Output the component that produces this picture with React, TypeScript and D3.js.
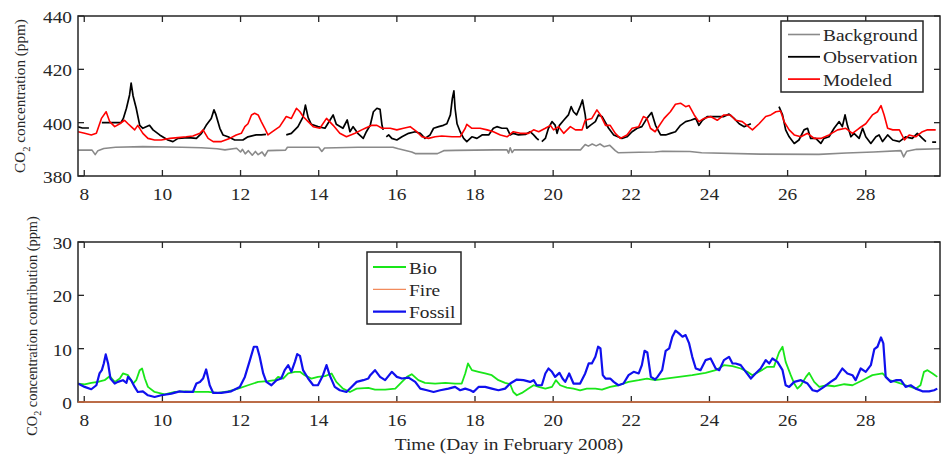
import React, { useRef, useEffect } from "react";
import * as d3 from "d3";

type Pt = [number, number];

// days of February 2008 vs ppm
const backgroundData: Pt[] = [
  [7.84, 389.7], [8.2, 389.7], [8.28, 388], [8.35, 389.5], [8.5, 390.3], [8.8, 390.8], [9.5, 391], [10.5, 390.8],
  [11.0, 390.6], [11.4, 390.2], [11.6, 389.8], [11.9, 390.4], [12.0, 389], [12.05, 390], [12.12, 388.3], [12.2, 389.5],
  [12.3, 387.8], [12.38, 389.2], [12.45, 388], [12.55, 389], [12.62, 387.5], [12.7, 389.5], [13.15, 389.7], [13.2, 390.8],
  [14.0, 390.8], [14.08, 389.2], [14.15, 390.5], [15.0, 390.8], [15.9, 390.8], [16.04, 390.2], [16.38, 389], [16.47, 388.4],
  [17.04, 388.4], [17.2, 389.5], [17.5, 389.6], [18.5, 389.8], [18.82, 389.8], [18.86, 388.6], [18.9, 390.6], [18.95, 388.8],
  [19.0, 389.8], [20.7, 389.8], [20.82, 391.8], [20.9, 391.2], [21.0, 392], [21.1, 391.3], [21.2, 392], [21.3, 391],
  [21.45, 391.5], [21.59, 389.5], [21.67, 388.7], [22.2, 388.9], [22.6, 389], [22.8, 389.3], [23.5, 389.2], [23.8, 388.7],
  [25.3, 388.2], [26.8, 388.1], [27.5, 388.6], [28.2, 389], [28.9, 389.5], [28.97, 387.2], [29.05, 389.3], [29.3, 390],
  [29.9, 390.2],
];

// NaN marks a gap in the observations
const observationData: Pt[] = [
  [7.84, 398.4], [7.95, 398.0], [8.12, 398.0], [8.13, NaN],
  [8.45, 400], [8.94, 400], [9.0, 401.6], [9.08, 405.4], [9.16, 410.4], [9.2, 414.8], [9.25, 410], [9.33, 405.4],
  [9.42, 399], [9.5, 397.9], [9.67, 399], [9.76, 397.3], [9.93, 395.4], [10.14, 393.5], [10.27, 392.9], [10.4, 394.1],
  [10.66, 394.4], [10.87, 394.1], [11.0, 396], [11.12, 399], [11.25, 401.6], [11.32, 404.8], [11.37, 403], [11.47, 397.9],
  [11.55, 395.4], [11.68, 394.7], [11.85, 393.5], [12.06, 393.5], [12.19, 394.7], [12.4, 395.4], [12.53, 395.4],
  [12.65, 395.6], [12.66, NaN],
  [13.17, 395.4], [13.3, 396], [13.47, 398.5], [13.6, 402.2], [13.66, 406.6], [13.73, 401.9], [13.81, 399.4],
  [13.98, 398.5], [14.16, 397.9], [14.37, 402.9], [14.45, 399.4], [14.62, 397.9], [14.73, 401], [14.8, 396.6],
  [14.88, 398.5], [15.0, 396], [15.14, 394.1], [15.22, 396.6], [15.32, 399.1], [15.4, 404.1], [15.49, 405.4],
  [15.57, 405], [15.62, 399], [15.65, 397.3], [15.66, NaN],
  [15.73, 394.7], [15.79, 395.4], [15.87, 394.1], [16.0, 393.5], [16.13, 394.7], [16.3, 396], [16.47, 396.6],
  [16.6, 396], [16.72, 394.1], [16.85, 395.4], [16.94, 397.9], [17.07, 398.5], [17.19, 399], [17.28, 399.6],
  [17.37, 402.9], [17.42, 409.1], [17.46, 411.9], [17.49, 405.4], [17.54, 399.6], [17.62, 396.6], [17.71, 394.1],
  [17.79, 392.9], [17.92, 394.7], [18.05, 394.1], [18.18, 395.4], [18.35, 395.4], [18.47, 397.9], [18.56, 398.5],
  [18.69, 397.9], [18.82, 397.9], [18.9, 395.4], [18.98, 396], [19.11, 395.4], [19.29, 395.6], [19.41, 396.6],
  [19.5, 395.4], [19.58, 394.1], [19.63, 393.5], [19.64, NaN],
  [19.71, 392.9], [19.8, 394.1], [19.88, 397.9], [19.97, 400.4], [20.05, 399.1], [20.1, 396], [20.16, 399],
  [20.27, 400.9], [20.39, 402.9], [20.46, 406], [20.52, 404.1], [20.6, 402.9], [20.69, 406], [20.75, 408.5],
  [20.82, 402.9], [20.86, 397.9], [20.95, 399], [21.08, 400.4], [21.16, 402.9], [21.25, 402.3], [21.42, 397.9],
  [21.55, 395.4], [21.76, 394.1], [21.89, 394.7], [22.02, 396.6], [22.15, 397.9], [22.27, 398.5], [22.4, 401.6],
  [22.52, 403.8], [22.62, 399], [22.75, 395.4], [22.88, 395.4], [23.0, 396], [23.13, 396.6], [23.26, 399],
  [23.39, 400.4], [23.52, 400.9], [23.65, 401.6], [23.73, 399], [23.82, 400.9], [23.95, 402.3], [24.12, 402.3],
  [24.25, 402.3], [24.37, 402.3], [24.5, 403.2], [24.63, 401.6], [24.76, 399.6], [24.89, 398.5], [24.97, 399],
  [25.06, 399.6], [25.07, NaN],
  [25.78, 406], [25.87, 402.9], [25.95, 397.3], [26.04, 394.7], [26.17, 392.2], [26.29, 393.5], [26.42, 397.3],
  [26.51, 397.9], [26.59, 394.1], [26.72, 394.1], [26.85, 392.2], [26.93, 394.1], [27.06, 394.7], [27.19, 397.9],
  [27.32, 400.4], [27.4, 398.5], [27.47, 402.9], [27.53, 399], [27.62, 394.7], [27.7, 396], [27.83, 394.1],
  [27.92, 397.9], [28.0, 394.7], [28.13, 392.2], [28.26, 394.7], [28.34, 395.4], [28.43, 392.9], [28.56, 395.4],
  [28.69, 393.5], [28.86, 392.9], [29.02, 394.7], [29.19, 394.1], [29.32, 396], [29.45, 394.1], [29.54, 392.9],
  [29.55, NaN], [29.7, 392.7], [29.8, 392.7],
];

const modeledData: Pt[] = [
  [7.84, 396.6], [8.01, 396], [8.18, 395.4], [8.31, 396], [8.44, 401.6], [8.56, 404.1], [8.65, 400.4], [8.78, 398.5],
  [8.91, 399.6], [9.03, 400.9], [9.12, 399.6], [9.2, 398.5], [9.29, 397.3], [9.37, 399], [9.5, 396], [9.63, 394.1],
  [9.8, 393.5], [9.97, 393.5], [10.19, 394.1], [10.4, 394.4], [10.61, 394.7], [10.78, 395], [10.96, 396], [11.04, 397.3],
  [11.17, 394.1], [11.3, 392.9], [11.51, 392.9], [11.72, 394.1], [11.89, 395.4], [12.02, 396], [12.11, 398.5],
  [12.19, 399.6], [12.28, 402.9], [12.36, 403.5], [12.45, 402.9], [12.53, 400.4], [12.62, 397.9], [12.7, 395.4],
  [12.88, 397.3], [13.0, 398.5], [13.17, 402.3], [13.3, 401.6], [13.43, 405.4], [13.52, 404.1], [13.6, 402.3],
  [13.73, 400.4], [13.86, 398.5], [14.03, 397.9], [14.2, 401.6], [14.37, 399], [14.54, 396], [14.71, 394.7],
  [14.93, 396], [15.1, 397.3], [15.19, 397.9], [15.36, 399], [15.49, 399], [15.62, 397.9], [15.83, 397.9], [16.0, 397.3],
  [16.17, 397.9], [16.34, 398.5], [16.51, 396.6], [16.64, 394.7], [16.81, 394.1], [16.98, 394.7], [17.15, 395],
  [17.41, 394.7], [17.62, 394.7], [17.75, 397.9], [17.79, 399.4], [17.92, 397.9], [18.13, 397.9], [18.31, 397.3],
  [18.47, 396.6], [18.65, 395.4], [18.82, 394.7], [18.98, 396.6], [19.16, 396], [19.37, 396], [19.5, 397.3],
  [19.63, 396.6], [19.8, 397.9], [19.93, 399], [20.01, 397.3], [20.14, 398.5], [20.27, 396], [20.44, 398.5],
  [20.57, 397.3], [20.74, 397.3], [20.82, 400.9], [20.99, 401.6], [21.12, 404.8], [21.21, 402.9], [21.34, 399],
  [21.46, 399], [21.59, 396], [21.72, 394.1], [21.89, 395.4], [22.02, 397.9], [22.19, 398.5], [22.31, 402.3],
  [22.4, 401.6], [22.49, 397.9], [22.61, 396.6], [22.67, 397.9], [22.84, 401.6], [23.0, 404.1], [23.13, 406.9],
  [23.26, 407.3], [23.39, 406], [23.48, 406.4], [23.61, 402.9], [23.73, 400.4], [23.86, 401.6], [24.03, 402.3],
  [24.2, 400.9], [24.37, 402.9], [24.54, 402.9], [24.67, 400.9], [24.84, 400.4], [25.1, 397.3], [25.27, 399.6],
  [25.44, 402.3], [25.57, 402.9], [25.7, 404.1], [25.82, 404.4], [25.91, 400.4], [26.04, 397.3], [26.17, 395.4],
  [26.34, 394.7], [26.51, 396], [26.68, 394.1], [26.85, 394.1], [27.06, 395.4], [27.28, 397.3], [27.49, 397.9],
  [27.66, 396], [27.83, 397.9], [28.0, 399.6], [28.17, 402.9], [28.3, 404.1], [28.39, 406.4], [28.47, 402.9],
  [28.56, 397.9], [28.69, 397.3], [28.86, 397.3], [28.99, 393.5], [29.11, 395.4], [29.28, 394.7], [29.45, 396.6],
  [29.58, 397.3], [29.79, 397.3],
];

const bioData: Pt[] = [
  [7.84, 3.46], [8.01, 3.3], [8.18, 3.6], [8.35, 3.77], [8.52, 4.09], [8.65, 4.84], [8.78, 3.77], [8.91, 4.4],
  [8.99, 5.35], [9.12, 5.03], [9.25, 3.46], [9.33, 4.09], [9.42, 5.97], [9.48, 6.28], [9.55, 4.4], [9.63, 2.83],
  [9.8, 1.88], [10.06, 1.44], [10.32, 1.88], [10.57, 2.0], [10.87, 1.88], [11.17, 1.88], [11.42, 1.7], [11.68, 2.0],
  [11.94, 2.51], [12.19, 3.14], [12.45, 3.77], [12.7, 3.9], [12.88, 4.09], [12.96, 4.71], [13.09, 4.4], [13.22, 5.35],
  [13.39, 5.66], [13.52, 5.66], [13.64, 5.03], [13.81, 4.4], [13.98, 4.71], [14.16, 4.84], [14.33, 5.35], [14.45, 3.77],
  [14.62, 2.51], [14.8, 1.88], [14.97, 2.51], [15.27, 2.64], [15.44, 2.32], [15.7, 2.32], [15.96, 2.51], [16.13, 3.77],
  [16.26, 4.71], [16.38, 5.22], [16.55, 4.09], [16.72, 3.6], [16.98, 3.46], [17.24, 3.6], [17.49, 3.46], [17.66, 3.46],
  [17.75, 5.35], [17.82, 7.23], [17.92, 5.97], [18.09, 5.66], [18.26, 5.35], [18.43, 5.03], [18.6, 4.09], [18.77, 3.6],
  [18.9, 3.33], [18.98, 1.88], [19.07, 1.26], [19.2, 1.7], [19.37, 2.51], [19.5, 3.14], [19.63, 2.83], [19.8, 2.51],
  [19.97, 2.83], [20.07, 4.09], [20.18, 3.14], [20.35, 2.7], [20.52, 2.51], [20.69, 2.2], [20.86, 2.51], [21.08, 2.51],
  [21.25, 2.32], [21.46, 2.83], [21.67, 3.14], [21.93, 3.77], [22.19, 4.09], [22.4, 4.4], [22.61, 4.09], [22.88, 4.4],
  [23.22, 4.71], [23.56, 5.03], [23.9, 5.47], [24.16, 5.97], [24.37, 6.91], [24.59, 6.72], [24.8, 6.28], [24.97, 5.66],
  [25.1, 5.03], [25.27, 5.66], [25.48, 6.59], [25.65, 6.59], [25.78, 9.29], [25.87, 10.36], [25.95, 7.53], [26.08, 5.03],
  [26.17, 3.46], [26.25, 2.51], [26.34, 3.14], [26.47, 4.71], [26.55, 5.47], [26.68, 3.77], [26.81, 2.83], [26.98, 3.14],
  [27.19, 2.95], [27.45, 3.33], [27.66, 3.14], [27.92, 4.09], [28.17, 5.03], [28.43, 5.35], [28.6, 4.09], [28.77, 3.77],
  [29.02, 3.14], [29.28, 2.51], [29.4, 3.14], [29.49, 5.66], [29.58, 5.97], [29.71, 5.35], [29.83, 4.71],
];

const fireData: Pt[] = [
  [7.84, 0], [29.9, 0],
];

const fossilData: Pt[] = [
  [7.84, 3.46], [8.01, 2.83], [8.18, 2.39], [8.31, 3.14], [8.39, 5.35], [8.45, 5.97], [8.5, 7.23], [8.55, 8.92],
  [8.61, 7.23], [8.67, 4.4], [8.78, 3.46], [8.86, 3.77], [8.99, 4.09], [9.08, 3.6], [9.12, 4.71], [9.2, 4.09],
  [9.29, 2.83], [9.37, 1.88], [9.5, 2.0], [9.63, 1.26], [9.8, 0.94], [9.97, 1.26], [10.23, 1.57], [10.44, 2.0],
  [10.57, 1.88], [10.78, 1.88], [10.87, 3.46], [10.96, 3.77], [11.04, 4.4], [11.12, 6.1], [11.21, 3.14], [11.3, 1.7],
  [11.51, 1.7], [11.76, 2.0], [11.98, 2.83], [12.11, 4.71], [12.24, 7.85], [12.34, 10.36], [12.42, 10.36], [12.49, 8.47],
  [12.58, 5.35], [12.66, 3.77], [12.79, 3.14], [12.92, 4.09], [13.04, 4.4], [13.13, 5.97], [13.22, 6.91], [13.3, 5.66],
  [13.39, 7.53], [13.45, 8.98], [13.52, 8.66], [13.6, 5.97], [13.73, 4.4], [13.86, 3.14], [13.98, 3.14], [14.11, 5.03],
  [14.2, 6.91], [14.28, 5.03], [14.41, 2.83], [14.54, 2.2], [14.71, 1.88], [14.84, 2.83], [14.97, 3.77], [15.14, 4.09],
  [15.27, 4.4], [15.32, 5.03], [15.44, 5.97], [15.57, 4.71], [15.7, 4.09], [15.87, 5.66], [16.0, 4.71], [16.13, 4.4],
  [16.3, 4.58], [16.47, 3.77], [16.6, 2.51], [16.77, 2.2], [16.94, 1.88], [17.11, 2.2], [17.32, 2.51], [17.49, 2.83],
  [17.62, 2.2], [17.75, 2.51], [17.88, 2.2], [17.96, 1.88], [18.09, 2.83], [18.26, 2.83], [18.43, 2.51], [18.6, 2.2],
  [18.77, 2.51], [18.9, 3.46], [19.07, 4.21], [19.24, 4.09], [19.41, 3.77], [19.5, 4.09], [19.58, 3.14], [19.71, 3.14],
  [19.8, 5.35], [19.88, 6.28], [19.97, 5.66], [20.05, 4.71], [20.16, 5.47], [20.24, 4.4], [20.31, 3.77], [20.41, 5.35],
  [20.52, 3.46], [20.69, 3.46], [20.82, 5.35], [20.91, 7.23], [20.99, 7.23], [21.08, 8.47], [21.15, 10.36], [21.21, 10.05],
  [21.27, 5.03], [21.34, 4.4], [21.46, 4.4], [21.55, 3.77], [21.67, 3.14], [21.8, 3.46], [21.93, 5.03], [22.06, 5.66],
  [22.19, 5.35], [22.27, 6.91], [22.34, 9.6], [22.41, 9.29], [22.5, 4.71], [22.61, 4.21], [22.67, 4.71], [22.79, 5.97],
  [22.88, 9.6], [22.97, 10.05], [23.05, 12.24], [23.13, 13.37], [23.22, 12.87], [23.31, 12.24], [23.39, 12.55],
  [23.48, 10.99], [23.56, 8.47], [23.65, 6.28], [23.77, 5.97], [23.9, 7.85], [24.03, 8.16], [24.16, 6.28], [24.25, 5.97],
  [24.37, 7.85], [24.5, 8.47], [24.59, 7.22], [24.67, 7.22], [24.8, 6.91], [24.93, 5.66], [25.06, 4.4], [25.18, 5.35],
  [25.31, 6.28], [25.44, 7.85], [25.53, 7.22], [25.61, 8.16], [25.74, 7.53], [25.87, 5.97], [25.95, 3.14], [26.04, 2.83],
  [26.17, 3.77], [26.34, 4.09], [26.51, 3.46], [26.64, 2.2], [26.76, 2.0], [26.93, 2.83], [27.1, 3.77], [27.23, 4.4],
  [27.4, 6.28], [27.53, 5.35], [27.66, 5.03], [27.74, 4.09], [27.87, 6.28], [28.0, 5.66], [28.13, 6.91], [28.22, 9.92],
  [28.3, 10.36], [28.39, 12.11], [28.45, 10.99], [28.51, 4.71], [28.64, 3.77], [28.77, 4.09], [28.9, 4.09], [29.02, 2.83],
  [29.15, 3.14], [29.28, 2.51], [29.45, 2.0], [29.62, 2.0], [29.75, 2.2], [29.83, 2.51],
];

const xTicks = [8, 10, 12, 14, 16, 18, 20, 22, 24, 26, 28];
const topYTicks = [380, 400, 420, 440];
const bottomYTicks = [0, 10, 20, 30];
const topLegend = ["Background", "Observation", "Modeled"];
const bottomLegend = ["Bio", "Fire", "Fossil"];

const FONT = "'Liberation Serif', 'Times New Roman', serif";
const SX = 1.14; // glyphs in the picture are a bit wider than normal Times
const INK = "#262626";

const App: React.FC = () => {
  const ref = useRef<SVGSVGElement | null>(null);

  useEffect(() => {
    if (!ref.current) return;
    const svg = d3.select(ref.current);
    svg.selectAll("*").remove();

    const left = 78, right = 940;
    const x = d3.scaleLinear().domain([7.84, 29.9]).range([left, right]);

    const text = (
      g: d3.Selection<any, unknown, null, undefined>,
      tx: number, ty: number, s: string, anchor: string, size = 17
    ) =>
      g.append("text")
        .attr("transform", `translate(${tx},${ty}) scale(${SX},1)`)
        .attr("text-anchor", anchor)
        .attr("font-family", FONT)
        .attr("font-size", size)
        .attr("fill", INK)
        .text(s);

    const panel = (
      id: string, top: number, bottom: number, domain: [number, number], ticks: number[]
    ) => {
      const y = d3.scaleLinear().domain(domain).range([bottom, top]);
      const g = svg.append("g");
      svg.append("clipPath").attr("id", id)
        .append("rect").attr("x", left).attr("y", top).attr("width", right - left).attr("height", bottom - top);
      const plot = g.append("g").attr("clip-path", `url(#${id})`);

      // tick marks, inward on all four sides
      const tl = 6;
      const tk = g.append("g").attr("stroke", INK).attr("stroke-width", 1.3);
      xTicks.forEach(t => {
        tk.append("line").attr("x1", x(t)).attr("x2", x(t)).attr("y1", bottom).attr("y2", bottom - tl);
        tk.append("line").attr("x1", x(t)).attr("x2", x(t)).attr("y1", top).attr("y2", top + tl);
        text(g, x(t), bottom + 24, String(t), "middle");
      });
      ticks.forEach(t => {
        tk.append("line").attr("x1", left).attr("x2", left + tl).attr("y1", y(t)).attr("y2", y(t));
        tk.append("line").attr("x1", right).attr("x2", right - tl).attr("y1", y(t)).attr("y2", y(t));
        text(g, left - 6, y(t) + 7, String(t), "end");
      });
      return { y, g, plot };
    };

    const drawLine = (
      plot: d3.Selection<SVGGElement, unknown, null, undefined>,
      y: d3.ScaleLinear<number, number>, data: Pt[], color: string, width: number, opacity = 1
    ) => {
      const line = d3.line<Pt>()
        .defined(d => !isNaN(d[1]))
        .x(d => x(d[0]))
        .y(d => y(d[1]));
      plot.append("path")
        .datum(data)
        .attr("fill", "none")
        .attr("stroke", color)
        .attr("stroke-width", width)
        .attr("stroke-opacity", opacity)
        .attr("stroke-linejoin", "round")
        .attr("d", line as any);
    };

    const frame = (g: d3.Selection<SVGGElement, unknown, null, undefined>, top: number, bottom: number) =>
      g.append("rect")
        .attr("x", left).attr("y", top).attr("width", right - left).attr("height", bottom - top)
        .attr("fill", "none").attr("stroke", INK).attr("stroke-width", 1.5);

    const legend = (
      g: d3.Selection<SVGGElement, unknown, null, undefined>,
      bx: number, by: number, bw: number, bh: number,
      labels: string[], styles: { c: string; w: number; o: number }[],
      firstY: number, step: number, lx0: number, lx1: number
    ) => {
      g.append("rect").attr("x", bx).attr("y", by).attr("width", bw).attr("height", bh)
        .attr("fill", "#fff").attr("stroke", INK).attr("stroke-width", 1.5);
      labels.forEach((s, i) => {
        const ly = firstY + i * step;
        g.append("line").attr("x1", lx0).attr("x2", lx1).attr("y1", ly).attr("y2", ly)
          .attr("stroke", styles[i].c).attr("stroke-width", styles[i].w).attr("stroke-opacity", styles[i].o);
        text(g, lx1 + 3, ly + 6.5, s, "start");
      });
    };

    // ---- top panel ----
    const topP = panel("clipTop", 16, 176, [380, 440], topYTicks);
    drawLine(topP.plot, topP.y, backgroundData, "#8a8a8a", 1.6);
    drawLine(topP.plot, topP.y, observationData, "#000000", 1.7);
    drawLine(topP.plot, topP.y, modeledData, "#ff0000", 1.6);
    frame(topP.g, 16, 176);
    legend(topP.g, 781, 21, 142, 71, topLegend,
      [{ c: "#8a8a8a", w: 1.6, o: 1 }, { c: "#000", w: 1.8, o: 1 }, { c: "#ff0000", w: 1.7, o: 1 }],
      34.5, 22.3, 788, 820);

    // ---- bottom panel ----
    const botP = panel("clipBot", 242, 402, [0, 30], bottomYTicks);
    drawLine(botP.plot, botP.y, bioData, "#19e619", 1.8);
    drawLine(botP.plot, botP.y, fossilData, "#1010ee", 2.2);
    frame(botP.g, 242, 402);
    drawLine(botP.g, botP.y, fireData, "#f0773f", 1.8, 0.65);
    legend(botP.g, 367, 252, 94, 72, bottomLegend,
      [{ c: "#19e619", w: 1.8, o: 1 }, { c: "#f0773f", w: 1.3, o: 0.85 }, { c: "#1010ee", w: 2.2, o: 1 }],
      267, 22.3, 373, 406);

    // ---- axis titles ----
    text(svg as any, (left + right) / 2, 450, "Time (Day in February 2008)", "middle");

    const ylab = (cx: number, cy: number, rest: string, size: number) => {
      const t = svg.append("text")
        .attr("transform", `translate(${cx},${cy}) rotate(-90)`)
        .attr("text-anchor", "middle")
        .attr("font-family", FONT)
        .attr("font-size", size)
        .attr("fill", INK);
      t.append("tspan").text("CO");
      t.append("tspan").attr("font-size", size * 0.7).attr("dy", size * 0.3).text("2");
      t.append("tspan").attr("dy", -size * 0.3).text(" " + rest);
    };
    ylab(25, 96, "concentration (ppm)", 15.2);
    ylab(37, 326, "concentration contribution (ppm)", 14.4);
  }, []);

  return (
    <svg
      ref={ref}
      width={947}
      height={459}
      style={{ position: "absolute", left: 0, top: 0, background: "#fff" }}
    />
  );
};

export default App;
